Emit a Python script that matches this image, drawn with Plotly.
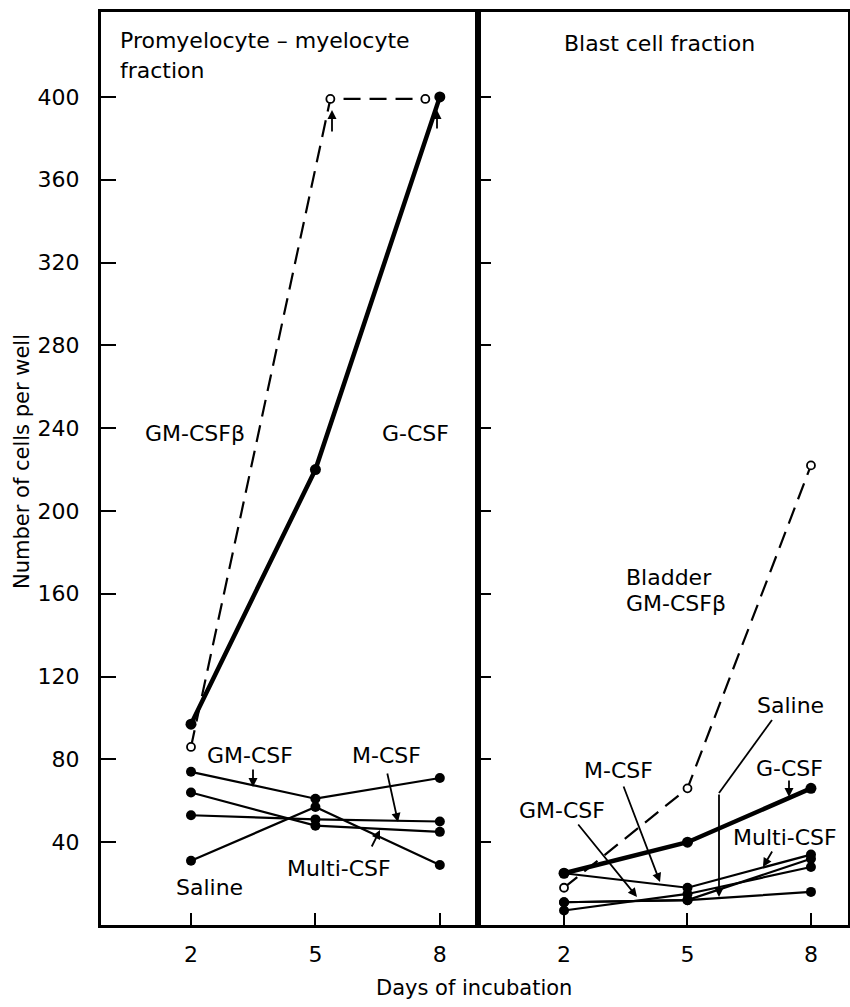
import plotly.graph_objects as go

# ---------------- data ----------------
days = [2, 5, 8]

# Promyelocyte-myelocyte fraction (left panel)
left_gcsf = [97, 220, 400]
left_gmcsf_beta_x = [2, 5.36, 7.65]
left_gmcsf_beta = [86, 399, 399]
left_gmcsf = [74, 61, 71]
left_mcsf = [53, 51, 50]
left_multi = [64, 48, 45]
left_saline = [31, 57, 29]

# Blast cell fraction (right panel)
right_gcsf = [25, 40, 66]
right_bladder = [18, 66, 222]
right_mcsf = [25, 18, 34]
right_saline = [11, 12, 16]
right_multi = [7, 15, 28]
right_gmcsf = [11, 12, 32]

y_ticks = [40, 80, 120, 160, 200, 240, 280, 320, 360, 400]
x_ticks = [2, 5, 8]

W, H = 850, 1007
FONT = "DejaVu Sans"


def px(x):
    return x / W


def py(y):
    return 1 - y / H


fig = go.Figure()


def thin(x, y, xa, ya):
    fig.add_trace(go.Scatter(x=x, y=y, xaxis=xa, yaxis=ya, mode="lines+markers",
                             line=dict(color="black", width=2.2),
                             marker=dict(color="black", size=10),
                             showlegend=False, hoverinfo="skip"))


def thick(x, y, xa, ya):
    fig.add_trace(go.Scatter(x=x, y=y, xaxis=xa, yaxis=ya, mode="lines+markers",
                             line=dict(color="black", width=4.5),
                             marker=dict(color="black", size=11),
                             showlegend=False, hoverinfo="skip"))


def dashed(x, y, xa, ya):
    fig.add_trace(go.Scatter(x=x, y=y, xaxis=xa, yaxis=ya, mode="lines+markers",
                             line=dict(color="black", width=2.2, dash="17px,9px"),
                             marker=dict(color="white", size=8, symbol="circle",
                                         line=dict(color="black", width=1.8)),
                             showlegend=False, hoverinfo="skip"))


# left panel
for s in [left_gmcsf, left_mcsf, left_multi, left_saline]:
    thin(days, s, "x", "y")
dashed(left_gmcsf_beta_x, left_gmcsf_beta, "x", "y")
thick(days, left_gcsf, "x", "y")

# right panel
for s in [right_mcsf, right_saline, right_multi, right_gmcsf]:
    thin(days, s, "x2", "y2")
dashed(days, right_bladder, "x2", "y2")
thick(days, right_gcsf, "x2", "y2")

ydom = [py(925), py(12)]
axis_common = dict(showline=True, linewidth=3, linecolor="black", mirror=True,
                   showgrid=False, zeroline=False, ticks="inside",
                   tickcolor="black", tickwidth=2)

fig.update_layout(
    width=W, height=H,
    margin=dict(l=0, r=0, t=0, b=0),
    paper_bgcolor="white", plot_bgcolor="white",
    font=dict(family=FONT, size=22, color="black"),
    showlegend=False,
    xaxis=dict(domain=[px(101), px(478)], range=[-0.17, 8.92], tickvals=x_ticks,
               ticklen=12, ticklabelstandoff=8, anchor="y", **axis_common),
    xaxis2=dict(domain=[px(478), px(848)], range=[-0.09, 8.9], tickvals=x_ticks,
                ticklen=12, ticklabelstandoff=8, anchor="y2", **axis_common),
    yaxis=dict(domain=ydom, range=[0, 441], tickvals=y_ticks, ticklen=15,
               ticklabelstandoff=14, anchor="x", **axis_common),
    yaxis2=dict(domain=ydom, range=[0, 441], tickvals=y_ticks, ticklen=13,
                showticklabels=False, anchor="x2", **axis_common),
)


def label(text, x, y, xanchor="center", size=22):
    fig.add_annotation(text=text, x=px(x), y=py(y), xref="paper", yref="paper",
                       xanchor=xanchor, yanchor="middle", showarrow=False,
                       font=dict(family=FONT, size=size, color="black"))


def arrow(hx, hy, tx, ty, head=True):
    fig.add_annotation(text="", x=px(hx), y=py(hy), xref="paper", yref="paper",
                       ax=tx - hx, ay=ty - hy, axref="pixel", ayref="pixel",
                       showarrow=True, arrowhead=2 if head else 0, arrowsize=1,
                       arrowwidth=1.8, arrowcolor="black")


# left panel texts
label("Promyelocyte \u2013 myelocyte", 118, 40, "left")
label("fraction", 118, 70, "left")
label("GM-CSF\u03b2", 195, 433)
label("G-CSF", 415, 433)
label("GM-CSF", 250, 755)
label("M-CSF", 386, 755)
label("Multi-CSF", 339, 868)
label("Saline", 209, 887)

arrow(253, 787, 253, 768)
arrow(398, 822, 387, 772)
arrow(380, 830, 371, 848)
arrow(332, 110, 332, 133)
arrow(437, 110, 437, 130)

# right panel texts
label("Blast cell fraction", 659, 43)
label("Bladder", 624, 577, "left")
label("GM-CSF\u03b2", 624, 603, "left")
label("Saline", 790, 705)
label("G-CSF", 789, 768)
label("M-CSF", 618, 770)
label("GM-CSF", 562, 810)
label("Multi-CSF", 785, 837)

arrow(789, 797, 789, 779)
arrow(660, 882, 623, 785)
arrow(637, 897, 577, 823)
arrow(763, 867, 773, 850)
fig.add_shape(type="line", x0=px(772), y0=py(720), x1=px(719), y1=py(793),
              xref="paper", yref="paper", line=dict(color="black", width=1.8))
arrow(719, 897, 719, 793)

# axis titles
fig.add_annotation(text="Number of cells per well", x=px(22), y=py(462),
                   xref="paper", yref="paper", textangle=-90, showarrow=False,
                   xanchor="center", yanchor="middle",
                   font=dict(family=FONT, size=21, color="black"))
label("Days of incubation", 474, 988, size=21)

fig.write_html("out.html")
